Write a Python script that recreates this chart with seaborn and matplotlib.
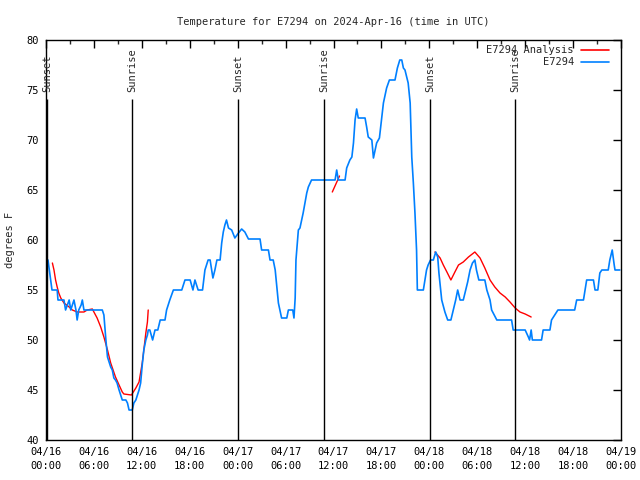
import pandas as pd
import matplotlib
matplotlib.use("Agg")
import matplotlib.pyplot as plt
import matplotlib.dates as mdates
import seaborn as sns

# hours after 2024-04-16 00:00 UTC, temperature in F
obs_hours = [0.25, 0.75, 1.4, 1.5, 2.25, 2.45, 2.9, 3.1, 3.5, 3.75, 3.9, 4.1, 4.4, 4.55, 4.75,
             7.05, 7.25, 7.5, 7.7, 8.1, 8.3, 8.5, 8.7, 8.9, 9.15, 9.55, 10.0, 10.2, 10.4, 10.8,
             11.0, 11.25, 11.65, 11.85, 12.05, 12.25, 12.5, 12.7, 12.8, 13.0, 13.35, 13.65, 14.0,
             14.3, 14.9, 15.1, 15.5, 15.95, 17.0, 17.4, 18.05, 18.4, 18.65, 19.05, 19.6, 19.9,
             20.3, 20.55, 20.9, 21.15, 21.4, 21.8, 22.0, 22.2, 22.4, 22.6, 22.85, 23.25, 23.65,
             24.1, 24.5, 24.9, 25.35, 26.8, 27.0, 27.85, 28.05, 28.45, 28.7, 29.1, 29.5, 30.15,
             30.35, 30.9, 31.05, 31.2, 31.3, 31.6, 31.8, 32.2, 32.65, 32.85, 33.25, 36.2, 36.4,
             36.6, 37.45, 37.65, 38.05, 38.3, 38.5, 38.7, 38.9, 39.1, 39.95, 40.15, 40.35, 40.8,
             41.0, 41.4, 41.75, 42.05, 42.25, 42.65, 43.0, 43.7, 44.0, 44.3, 44.55, 44.75, 44.95,
             45.35, 45.6, 45.8, 46.0, 46.2, 46.4, 46.5, 47.25, 47.45, 47.65, 47.85, 48.15, 48.5,
             48.8, 49.05, 49.2, 49.55, 49.95, 50.3, 50.7, 51.0, 51.3, 51.55, 51.85, 52.25, 52.55,
             52.8, 53.1, 53.4, 53.7, 53.9, 54.2, 54.95, 55.2, 55.6, 55.8, 56.45, 58.3, 58.5, 60.0,
             60.4, 60.55, 60.75, 60.9, 62.05, 62.25, 63.1, 63.3, 64.1, 66.2, 66.45, 67.3, 67.7,
             68.55, 68.75, 69.1, 69.35, 69.6, 70.4, 70.6, 70.9, 71.15, 71.25, 71.85]
obs_temp = [58, 55, 55, 54, 54, 53, 54, 53, 54, 53, 52, 53, 53.5, 54, 53,
            53, 52.5, 50, 48.3, 47.3, 47, 46.2, 46, 45.7, 45, 44, 44, 43.7, 43, 43,
            43.7, 44, 45, 45.7, 47.5, 49, 50, 50.5, 51, 51, 50, 51, 51,
            52, 52, 53, 54, 55, 55, 56, 56, 55, 56, 55, 55, 57,
            58, 58, 56.2, 57, 58, 58, 59.7, 60.8, 61.5, 62, 61.2, 61, 60.2,
            60.7, 61.1, 60.8, 60.1, 60.1, 59, 59, 58, 58, 57, 53.7, 52.2, 52.2,
            53, 53, 52.2, 54.2, 58, 61, 61.2, 62.7, 64.7, 65.3, 66, 66, 67,
            66, 66, 67.2, 68, 68.3, 69.7, 72, 73.1, 72.2, 72.2, 71.3, 70.3, 70,
            68.2, 69.7, 70.2, 72.3, 73.7, 75.2, 76, 76, 77.2, 78, 78, 77.2, 77,
            75.7, 73.7, 68.3, 65.7, 62.7, 59, 55, 55, 56, 57, 57.5, 58, 58,
            58.8, 58.3, 56.7, 54, 52.8, 52, 52, 53, 54, 55, 54, 54, 55,
            55.8, 57, 57.7, 58, 57, 56, 56, 55, 54, 53, 52, 52, 51, 51,
            50.3, 50, 51, 50, 50, 51, 51, 52, 53, 53, 54, 54, 56,
            56, 55, 55, 56.7, 57, 57, 58, 59, 57.5, 57, 57]

ana1_hours = [0.8, 1.0, 1.2, 1.4, 1.6, 1.85, 2.25, 2.9, 3.3, 3.9, 4.75, 5.15, 5.8, 6.0, 6.4,
              6.85, 7.25, 7.7, 8.1, 8.7, 9.15, 9.55, 9.75, 10.7, 11.25, 11.65, 12.05, 12.25,
              12.5, 12.7, 12.8]
ana1_temp = [57.7, 57, 56, 55.3, 54.7, 54.2, 53.7, 53.3, 53, 52.8, 52.8, 53, 53.1, 52.8, 52.2,
             51.3, 50.3, 49, 47.7, 46.3, 45.5, 44.8, 44.6, 44.5, 45.2, 45.8, 47.7, 49,
             50.7, 51.8, 53]
ana2_hours = [35.85, 36.75]
ana2_temp = [64.8, 66.4]
ana3_hours = [48.7, 49.35, 49.75, 50.2, 50.7, 51.2, 51.65, 52.25, 52.9, 53.7, 54.35, 54.95,
              55.6, 56.2, 56.85, 57.5, 58.1, 58.75, 59.35, 60.0, 60.75]
ana3_temp = [58.8, 58.2, 57.5, 56.8, 56, 56.8, 57.5, 57.8, 58.3, 58.8, 58.2, 57.2,
             56, 55.3, 54.7, 54.3, 53.8, 53.2, 52.8, 52.6, 52.3]

sun_hours = [0.1, 10.77, 24.05, 34.8, 48.1, 58.7]
sun_labels = ["Sunset", "Sunrise", "Sunset", "Sunrise", "Sunset", "Sunrise"]

start = pd.Timestamp("2024-04-16 00:00")
to_time = lambda hs: [start + pd.Timedelta(hours=h) for h in hs]

obs = pd.DataFrame({"time": to_time(obs_hours), "temp": obs_temp})
ana = pd.concat([
    pd.DataFrame({"time": to_time(ana1_hours), "temp": ana1_temp, "seg": 1}),
    pd.DataFrame({"time": to_time(ana2_hours), "temp": ana2_temp, "seg": 2}),
    pd.DataFrame({"time": to_time(ana3_hours), "temp": ana3_temp, "seg": 3}),
])

sns.set_style("white")
plt.rcParams["font.family"] = ["DejaVu Sans Mono"]
plt.rcParams["font.size"] = 7

fig = plt.figure(figsize=(6.4, 4.8), dpi=100)
ax = fig.add_axes([46 / 640, 40 / 480, 575 / 640, 400 / 480])

sns.lineplot(data=ana, x="time", y="temp", units="seg", estimator=None,
             color="#ff0000", lw=1.0, ax=ax)
sns.lineplot(data=obs, x="time", y="temp", estimator=None,
             color="#0080ff", lw=1.2, ax=ax)

for h, lab in zip(sun_hours, sun_labels):
    t = start + pd.Timedelta(hours=h)
    ax.vlines(t, 40, 74.1, color="black", lw=1.0)
    ax.text(t, 74.8, lab, rotation=90, ha="center", va="bottom", fontsize=7.5)

ax.set_xlim(start, start + pd.Timedelta(hours=72))
ax.set_ylim(40, 80)
ax.set_yticks(range(40, 81, 5))
ax.xaxis.set_major_locator(mdates.HourLocator(byhour=[0, 6, 12, 18]))
ax.xaxis.set_minor_locator(mdates.HourLocator(byhour=[3, 9, 15, 21]))
ax.xaxis.set_major_formatter(mdates.DateFormatter("%m/%d\n%H:%M"))
ax.tick_params(axis="both", which="major", direction="in", length=6, width=1,
               top=True, right=True, labelsize=7.5, pad=5, colors="black")
ax.tick_params(axis="x", which="minor", direction="in", length=3, width=1, top=True)
for lbl in ax.get_xticklabels():
    lbl.set_linespacing(1.45)
for s in ax.spines.values():
    s.set_color("black")
    s.set_linewidth(1.0)

ax.set_xlabel("")
ax.set_ylabel("degrees F", fontsize=7.5, labelpad=8)
ax.set_title("Temperature for E7294 on 2024-Apr-16 (time in UTC)", fontsize=7.5, pad=11)

# key in the upper right corner, text on the left of the sample line
keys = [("E7294 Analysis", "#ff0000", 0.975), ("E7294", "#0080ff", 0.945)]
for lab, col, yy in keys:
    ax.text(0.918, yy, lab, transform=ax.transAxes, ha="right", va="center", fontsize=7.5)
    ax.plot([0.930, 0.979], [yy, yy], transform=ax.transAxes, color=col, lw=1.2)

fig.savefig("out.png", dpi=100)
